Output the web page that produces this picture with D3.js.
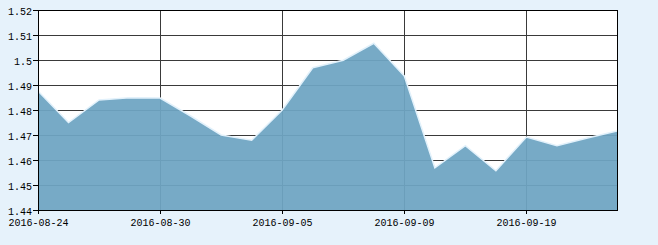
<!DOCTYPE html>
<html><head><meta charset="utf-8">
<script src="https://cdn.jsdelivr.net/npm/d3@7"></script>
<style>
html,body{margin:0;padding:0;background:#e6f2fb;}
svg{display:block;}
text{font-family:"Liberation Mono","DejaVu Sans Mono",monospace;font-size:10px;fill:#000;}
</style></head><body>
<svg id="c" width="658" height="245"></svg>
<script>
const dates = ["2016-08-24","2016-08-25","2016-08-26","2016-08-29","2016-08-30","2016-08-31","2016-09-01","2016-09-02","2016-09-05","2016-09-06","2016-09-07","2016-09-08","2016-09-09","2016-09-12","2016-09-13","2016-09-14","2016-09-19","2016-09-20","2016-09-21","2016-09-22"];
const values = [1.4876,1.4750,1.4840,1.4849,1.4848,1.4776,1.4700,1.4679,1.4800,1.4969,1.4999,1.5067,1.4936,1.4569,1.4657,1.4557,1.4692,1.4657,1.4688,1.4717];
const xTickLabels = ["2016-08-24","2016-08-30","2016-09-05","2016-09-09","2016-09-19"];
const yTicks = [1.44,1.45,1.46,1.47,1.48,1.49,1.5,1.51,1.52];

const L=38,R=618,T=10,B=210;
const svg=d3.select("#c");
const x=d3.scalePoint().domain(dates).range([L,R]);
const y=d3.scaleLinear().domain([1.44,1.52]).range([B,T]);

svg.append("rect").attr("x",L).attr("y",T).attr("width",R-L).attr("height",B-T).attr("fill","#fff");

const grid=svg.append("g").attr("stroke","#3a3a3a").attr("stroke-width",1).attr("shape-rendering","crispEdges");
yTicks.forEach(v=>{const yy=Math.round(y(v))+0.5;grid.append("line").attr("x1",L).attr("x2",R).attr("y1",yy).attr("y2",yy);});
xTickLabels.forEach(d=>{const xx=Math.round(x(d))+0.5;grid.append("line").attr("x1",xx).attr("x2",xx).attr("y1",T).attr("y2",B);});

const data=dates.map((d,i)=>({d,v:values[i]}));
svg.append("path").datum(data)
  .attr("d",d3.area().x(p=>x(p.d)).y0(B).y1(p=>y(p.v)))
  .attr("fill","rgb(110,165,194)").attr("fill-opacity",0.94);
svg.append("path").datum(data)
  .attr("d",d3.line().x(p=>x(p.d)).y(p=>y(p.v)))
  .attr("fill","none").attr("stroke","#e2f1fb").attr("stroke-width",1.5);

// frame
svg.append("rect").attr("x",L+0.5).attr("y",T+0.5).attr("width",R-L-1).attr("height",B-T)
  .attr("fill","none").attr("stroke","#000").attr("stroke-width",1.2).attr("shape-rendering","crispEdges");

// y axis ticks and labels
const ya=svg.append("g");
yTicks.forEach(v=>{
  const yy=Math.round(y(v))+0.5;
  ya.append("line").attr("x1",L-5).attr("x2",L).attr("y1",yy).attr("y2",yy).attr("stroke","#000").attr("shape-rendering","crispEdges");
  ya.append("text").attr("x",L-6).attr("y",yy+4).attr("text-anchor","end").text(d3.format("")(v));
});
// x axis ticks and labels
const xa=svg.append("g");
xTickLabels.forEach(d=>{
  const xx=Math.round(x(d))+0.5;
  xa.append("line").attr("x1",xx).attr("x2",xx).attr("y1",B).attr("y2",B+4).attr("stroke","#000").attr("shape-rendering","crispEdges");
  xa.append("text").attr("x",xx).attr("y",B+16).attr("text-anchor","middle").text(d);
});
</script>
</body></html>
